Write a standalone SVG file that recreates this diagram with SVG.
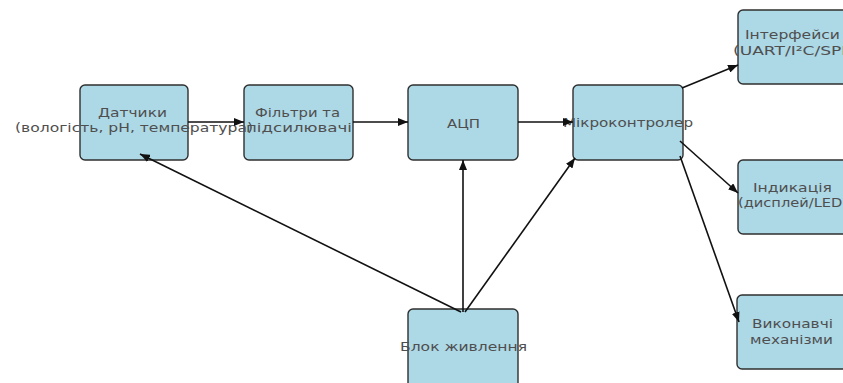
<svg xmlns="http://www.w3.org/2000/svg" width="843" height="383" viewBox="0 0 843 383">
<defs>
<style>
.box{fill:#add8e6;stroke:#2f2f2f;stroke-width:1.4}
.lbl{font-family:"DejaVu Sans",sans-serif;font-size:13px;fill:#4f4f4f;text-anchor:middle}
.edge{stroke:#111;stroke-width:1.6;fill:none;marker-end:url(#ah)}
</style>
<marker id="ah" viewBox="0 0 10 8" refX="10" refY="4" markerWidth="10" markerHeight="8" markerUnits="userSpaceOnUse" orient="auto">
<path d="M0,0 L10,4 L0,8 z" fill="#111"/>
</marker>
</defs>
<rect width="843" height="383" fill="#fff"/>
<g id="nodes">
<g id="sensors"><rect class="box" x="80" y="85" width="108" height="75" rx="5"/></g>
<g id="filters"><rect class="box" x="244" y="85" width="109" height="75" rx="5"/></g>
<g id="adc"><rect class="box" x="408" y="85" width="110" height="75" rx="5"/></g>
<g id="mcu"><rect class="box" x="573" y="85" width="110" height="75" rx="5"/></g>
<g id="interfaces"><rect class="box" x="738" y="10" width="112" height="74" rx="5"/></g>
<g id="indication"><rect class="box" x="738" y="160" width="112" height="74" rx="5"/></g>
<g id="actuators"><rect class="box" x="737" y="295" width="112" height="74" rx="5"/></g>
<g id="power"><rect class="box" x="408" y="309" width="110" height="80" rx="5"/></g>
</g>
<g id="labels">
<text class="lbl" x="132.5" y="117" textLength="69" lengthAdjust="spacingAndGlyphs">Датчики</text>
<text class="lbl" x="134" y="132" textLength="238" lengthAdjust="spacingAndGlyphs">(вологість, pH, температура)</text>
<text class="lbl" x="297.5" y="117" textLength="85" lengthAdjust="spacingAndGlyphs">Фільтри та</text>
<text class="lbl" x="299" y="132" textLength="106" lengthAdjust="spacingAndGlyphs">підсилювачі</text>
<text class="lbl" x="463.5" y="128" textLength="33" lengthAdjust="spacingAndGlyphs">АЦП</text>
<text class="lbl" x="628" y="127" textLength="130" lengthAdjust="spacingAndGlyphs">Мікроконтролер</text>
<text class="lbl" x="792.5" y="39" textLength="95" lengthAdjust="spacingAndGlyphs">Інтерфейси</text>
<text class="lbl" x="793" y="55" textLength="120" lengthAdjust="spacingAndGlyphs">(UART/I²C/SPI)</text>
<text class="lbl" x="792.5" y="192" textLength="79" lengthAdjust="spacingAndGlyphs">Індикація</text>
<text class="lbl" x="793" y="207" textLength="110" lengthAdjust="spacingAndGlyphs">(дисплей/LED)</text>
<text class="lbl" x="792.5" y="328" textLength="81" lengthAdjust="spacingAndGlyphs">Виконавчі</text>
<text class="lbl" x="791.5" y="344" textLength="83" lengthAdjust="spacingAndGlyphs">механізми</text>
<text class="lbl" x="463.5" y="351" textLength="127" lengthAdjust="spacingAndGlyphs">Блок живлення</text>
</g>
<g id="connectors">
<line class="edge" x1="188" y1="122" x2="244" y2="122"/>
<line class="edge" x1="353" y1="122" x2="408" y2="122"/>
<line class="edge" x1="518" y1="122" x2="573" y2="122"/>
<line class="edge" x1="682" y1="88" x2="738" y2="65"/>
<line class="edge" x1="680" y1="141" x2="738" y2="193"/>
<line class="edge" x1="680" y1="156" x2="739" y2="322"/>
<line class="edge" x1="461" y1="312" x2="140" y2="154"/>
<line class="edge" x1="463" y1="312" x2="463" y2="160"/>
<line class="edge" x1="465" y1="312" x2="575" y2="158"/>
</g>
</svg>
